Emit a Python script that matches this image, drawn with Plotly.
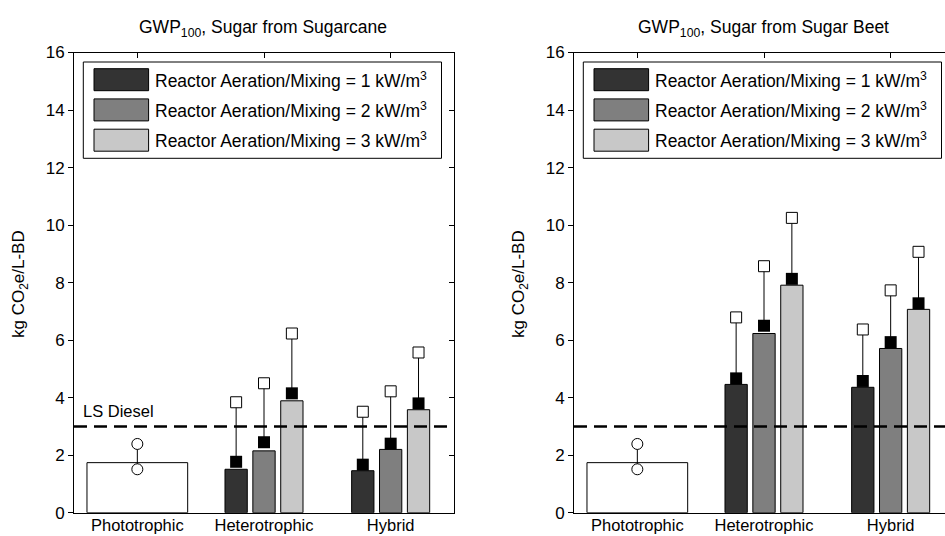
import plotly.graph_objects as go

# ---------------- data ----------------
categories = ["Phototrophic", "Heterotrophic", "Hybrid"]
series_names = ["Reactor Aeration/Mixing = 1 kW/m<sup>3</sup>",
                "Reactor Aeration/Mixing = 2 kW/m<sup>3</sup>",
                "Reactor Aeration/Mixing = 3 kW/m<sup>3</sup>"]
series_colors = ["#333333", "#7f7f7f", "#c8c8c8"]

# phototrophic (same in both panels)
photo_bar = 1.74
photo_lo = 1.51
photo_hi = 2.39

# sugarcane panel: values for [Heterotrophic, Hybrid], per aeration level
cane_bar = [[1.51, 1.46], [2.15, 2.20], [3.89, 3.58]]
cane_mid = [[1.77, 1.67], [2.45, 2.40], [4.15, 3.80]]
cane_hi = [[3.84, 3.51], [4.50, 4.22], [6.23, 5.57]]

# sugar beet panel
beet_bar = [[4.46, 4.36], [6.23, 5.71], [7.91, 7.07]]
beet_mid = [[4.67, 4.58], [6.50, 5.93], [8.13, 7.28]]
beet_hi = [[6.79, 6.37], [8.57, 7.73], [10.25, 9.07]]

ls_diesel = 3.0
y_ticks = [0, 2, 4, 6, 8, 10, 12, 14, 16]

panel_titles = ["GWP<sub>100</sub>, Sugar from Sugarcane",
                "GWP<sub>100</sub>, Sugar from Sugar Beet"]
y_title = "kg CO<sub>2</sub>e/L-BD"

# ---------------- layout helpers ----------------
W, H = 945, 536
FONT = "Arial, Liberation Sans, sans-serif"


def px(x):
    return x / W


def py(y):
    return 1 - y / H


cat_x = [1, 2, 3]
group_x = [2, 3]
offsets = [-0.22, 0.0, 0.22]
bar_w = 0.176
photo_w = 0.795

fig = go.Figure()


def add_panel(xa, ya, bars, mids, his):
    # phototrophic bar
    fig.add_trace(go.Bar(x=[cat_x[0]], y=[photo_bar], width=[photo_w],
                         marker=dict(color="white", line=dict(color="black", width=1)),
                         xaxis=xa, yaxis=ya, showlegend=False, hoverinfo="skip"))
    for i in range(3):
        xs = [g + offsets[i] for g in group_x]
        fig.add_trace(go.Bar(x=xs, y=bars[i], width=[bar_w] * len(xs),
                             marker=dict(color=series_colors[i], line=dict(color="black", width=1)),
                             xaxis=xa, yaxis=ya, showlegend=False, hoverinfo="skip",
                             name=series_names[i]))
    # connecting lines
    lx, ly = [cat_x[0], cat_x[0], None], [photo_lo, photo_hi, None]
    for i in range(3):
        for j, g in enumerate(group_x):
            lx += [g + offsets[i], g + offsets[i], None]
            ly += [mids[i][j], his[i][j], None]
    fig.add_trace(go.Scatter(x=lx, y=ly, mode="lines", line=dict(color="black", width=1),
                             xaxis=xa, yaxis=ya, showlegend=False, hoverinfo="skip"))
    # phototrophic circles
    fig.add_trace(go.Scatter(x=[cat_x[0], cat_x[0]], y=[photo_lo, photo_hi], mode="markers",
                             marker=dict(symbol="circle", size=11, color="white",
                                         line=dict(color="black", width=1)),
                             xaxis=xa, yaxis=ya, showlegend=False, hoverinfo="skip"))
    mx, my, hx, hy = [], [], [], []
    for i in range(3):
        for j, g in enumerate(group_x):
            mx.append(g + offsets[i]); my.append(mids[i][j])
            hx.append(g + offsets[i]); hy.append(his[i][j])
    fig.add_trace(go.Scatter(x=mx, y=my, mode="markers",
                             marker=dict(symbol="square", size=12, color="black",
                                         line=dict(color="black", width=0)),
                             xaxis=xa, yaxis=ya, showlegend=False, hoverinfo="skip"))
    fig.add_trace(go.Scatter(x=hx, y=hy, mode="markers",
                             marker=dict(symbol="square", size=11, color="white",
                                         line=dict(color="black", width=1)),
                             xaxis=xa, yaxis=ya, showlegend=False, hoverinfo="skip"))


add_panel("x", "y", cane_bar, cane_mid, cane_hi)
add_panel("x2", "y2", beet_bar, beet_mid, beet_hi)

# empty traces so the overlay tick axes get drawn
fig.add_trace(go.Scatter(x=[], y=[], xaxis="x3", yaxis="y", showlegend=False))
fig.add_trace(go.Scatter(x=[], y=[], xaxis="x", yaxis="y3", showlegend=False))
fig.add_trace(go.Scatter(x=[], y=[], xaxis="x4", yaxis="y2", showlegend=False))

left_dom = [px(74), px(454)]
right_dom = [px(574), 1.0]
y_dom = [py(512.7), py(52.5)]
left_range = [0.5, 3.5]
right_range = [0.5, 0.5 + (W - 574) / (380 / 3.0)]

tickfont = dict(family=FONT, size=16.5, color="black")
common_x = dict(tickvals=cat_x, ticktext=categories, ticks="", showgrid=False,
                zeroline=False, showline=True, linecolor="black", linewidth=1,
                tickfont=tickfont, fixedrange=True, ticklabelstandoff=-3, automargin=False)
common_y = dict(range=[0, 16], tickvals=y_ticks, ticks="outside", ticklen=5,
                tickcolor="black", showgrid=False, zeroline=False, showline=True,
                linecolor="black", linewidth=1, tickfont=dict(family=FONT, size=17, color="black"),
                domain=y_dom, fixedrange=True, automargin=False)
overlay_common = dict(ticks="inside", ticklen=5, tickcolor="black", showticklabels=False,
                      showgrid=False, zeroline=False, showline=False, fixedrange=True,
                      automargin=False)

fig.update_layout(
    template="none",
    width=W, height=H, margin=dict(l=0, r=0, t=0, b=0, autoexpand=False),
    paper_bgcolor="white", plot_bgcolor="white", barmode="overlay",
    showlegend=False, font=dict(family=FONT, color="black"),
    xaxis=dict(**common_x, domain=left_dom, range=left_range, mirror=True, anchor="y"),
    yaxis=dict(**common_y, mirror=True, anchor="x"),
    xaxis2=dict(**common_x, domain=right_dom, range=right_range, mirror=True, anchor="y2"),
    yaxis2=dict(**common_y, mirror=False, anchor="x2"),
    xaxis3=dict(**overlay_common, overlaying="x", side="top", range=left_range,
                tickvals=cat_x, anchor="y"),
    yaxis3=dict(**overlay_common, overlaying="y", side="right", range=[0, 16],
                tickvals=y_ticks, anchor="x"),
    xaxis4=dict(**overlay_common, overlaying="x2", side="top", range=right_range,
                tickvals=cat_x, anchor="y2"),
)

shapes = []
annotations = []
for k, (xr, dx) in enumerate([("x", 0), ("x2", 500)]):
    # LS diesel reference line
    shapes.append(dict(type="line", xref=xr + " domain", yref="y" if k == 0 else "y2",
                       x0=0, x1=1, y0=ls_diesel, y1=ls_diesel,
                       line=dict(color="black", width=2.5, dash="13px,7px"), layer="above"))
    # legend box
    shapes.append(dict(type="rect", xref="paper", yref="paper",
                       x0=px(83.3 + dx), x1=px(441.5 + dx), y0=py(158.3), y1=py(62),
                       line=dict(color="black", width=1), fillcolor="white", layer="above"))
    for i, top in enumerate([68.7, 98.9, 129.2]):
        shapes.append(dict(type="rect", xref="paper", yref="paper",
                           x0=px(94 + dx), x1=px(148.6 + dx), y0=py(top + 22), y1=py(top),
                           line=dict(color="black", width=1), fillcolor=series_colors[i],
                           layer="above"))
        annotations.append(dict(xref="paper", yref="paper", x=px(152.5 + dx), y=py(top + 11),
                                xanchor="left", yanchor="middle", text=series_names[i],
                                showarrow=False, font=dict(family=FONT, size=17.5, color="black")))
    # panel title
    annotations.append(dict(xref="paper", yref="paper", x=px(263 + dx), y=py(28),
                            xanchor="center", yanchor="middle", text=panel_titles[k],
                            showarrow=False, font=dict(family=FONT, size=17.5, color="black")))
    # y axis title
    annotations.append(dict(xref="paper", yref="paper", x=px(20 + dx), y=py(284),
                            xanchor="center", yanchor="middle", text=y_title, textangle=-90,
                            showarrow=False, font=dict(family=FONT, size=17, color="black")))

annotations.append(dict(xref="paper", yref="paper", x=px(81), y=py(422),
                        xanchor="left", yanchor="bottom", text="LS Diesel",
                        showarrow=False, font=dict(family=FONT, size=16.5, color="black")))

fig.update_layout(shapes=shapes, annotations=annotations)
fig.write_html("out.html", config={"displayModeBar": False},
               post_script="document.body.style.margin='0';"
                           "document.body.style.overflow='hidden';")
